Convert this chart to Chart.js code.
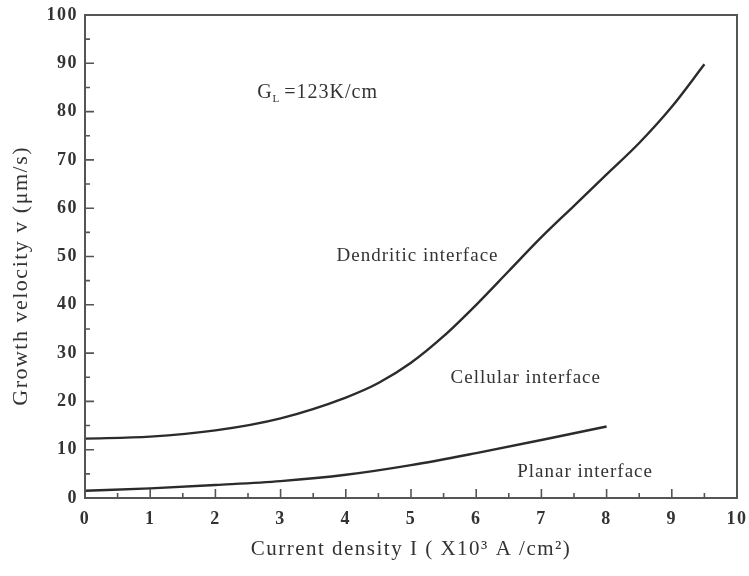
<!DOCTYPE html>
<html>
<head>
<meta charset="utf-8">
<script src="https://cdn.jsdelivr.net/npm/chart.js@4/dist/chart.umd.min.js"></script>
<style>
  html, body { margin: 0; padding: 0; background: #fff; }
  #wrap { width: 749px; height: 576px; }
</style>
</head>
<body>
<div id="wrap"><canvas id="growth" width="749" height="576"></canvas></div>
<script>
// current density (x10^3 A/cm^2) and growth velocity (um/s)
const dendriticX = [0, 1, 2, 3, 4, 4.5, 5, 5.5, 6, 6.5, 7, 7.5, 8, 8.5, 9, 9.5];
const dendriticY = [12.3, 12.7, 14.0, 16.5, 20.8, 23.8, 28.0, 33.5, 40.0, 47.0, 54.0, 60.5, 67.0, 73.5, 81.0, 89.8];
const planarX = [0, 1, 2, 3, 4, 5, 6, 7, 8];
const planarY = [1.5, 2.0, 2.7, 3.5, 4.8, 6.8, 9.3, 12.0, 14.8];

const xTicks = [0, 1, 2, 3, 4, 5, 6, 7, 8, 9, 10];
const yTicks = [0, 10, 20, 30, 40, 50, 60, 70, 80, 90, 100];

// region labels placed in data coordinates
const regionLabels = [
  { text: 'Dendritic interface', x: 5.1, y: 50 },
  { text: 'Cellular interface', x: 6.76, y: 24.8 },
  { text: 'Planar interface', x: 7.67, y: 5.4 }
];

const yTitle = 'Growth velocity v (\u03BCm/s)';

const SERIF = '"Liberation Serif", "DejaVu Serif", serif';
const INK = '#333';

function pairs(xs, ys) {
  return xs.map((x, i) => ({ x: x, y: ys[i] }));
}

// the printed lettering is loosely spaced
const spacing = {
  id: 'spacing',
  beforeDraw(chart) { chart.ctx.letterSpacing = '1.5px'; }
};

// box frame plus inward major/minor ticks on the bottom and left axes
const frameTicks = {
  id: 'frameTicks',
  afterDraw(chart) {
    const { ctx, chartArea: a, scales: { x, y } } = chart;
    ctx.save();
    ctx.strokeStyle = '#555';
    ctx.lineWidth = 2;
    ctx.strokeRect(a.left, a.top, a.right - a.left, a.bottom - a.top);
    ctx.lineWidth = 1.6;
    ctx.beginPath();
    for (let i = 0; i < xTicks.length; i++) {
      const px = x.getPixelForValue(xTicks[i]);
      ctx.moveTo(px, a.bottom);
      ctx.lineTo(px, a.bottom - 9);
      if (i < xTicks.length - 1) {
        const mx = x.getPixelForValue((xTicks[i] + xTicks[i + 1]) / 2);
        ctx.moveTo(mx, a.bottom);
        ctx.lineTo(mx, a.bottom - 5);
      }
    }
    for (let i = 0; i < yTicks.length; i++) {
      const py = y.getPixelForValue(yTicks[i]);
      ctx.moveTo(a.left, py);
      ctx.lineTo(a.left + 9, py);
      if (i < yTicks.length - 1) {
        const my = y.getPixelForValue((yTicks[i] + yTicks[i + 1]) / 2);
        ctx.moveTo(a.left, my);
        ctx.lineTo(a.left + 5, my);
      }
    }
    ctx.stroke();

    // y title, sitting a little below the middle of the axis
    ctx.fillStyle = INK;
    ctx.font = '22px ' + SERIF;
    ctx.letterSpacing = '1.5px';
    ctx.textAlign = 'center';
    ctx.textBaseline = 'middle';
    ctx.translate(21, y.getPixelForValue(46));
    ctx.rotate(-Math.PI / 2);
    ctx.fillText(yTitle, 0, 0);
    ctx.restore();
  }
};

// text annotations: G_L with subscript, plus the three region names
const notes = {
  id: 'notes',
  afterDatasetsDraw(chart) {
    const { ctx, scales: { x, y } } = chart;
    ctx.save();
    ctx.fillStyle = INK;
    ctx.letterSpacing = '1px';
    ctx.textBaseline = 'middle';
    ctx.font = '19px ' + SERIF;
    ctx.textAlign = 'center';
    regionLabels.forEach(l => {
      ctx.fillText(l.text, x.getPixelForValue(l.x), y.getPixelForValue(l.y));
    });

    ctx.textAlign = 'left';
    let gx = x.getPixelForValue(2.64);
    const gy = y.getPixelForValue(84);
    ctx.font = '20px ' + SERIF;
    ctx.fillText('G', gx, gy);
    gx += ctx.measureText('G').width;
    ctx.font = '11px ' + SERIF;
    ctx.fillText('L', gx, gy + 7);
    gx += ctx.measureText('L').width + 4;
    ctx.font = '20px ' + SERIF;
    ctx.fillText('=123K/cm', gx, gy);
    ctx.restore();
  }
};

const lineStyle = {
  borderColor: '#2b2b2b',
  borderWidth: 2.4,
  pointRadius: 0,
  showLine: true,
  fill: false,
  cubicInterpolationMode: 'monotone'
};

new Chart(document.getElementById('growth').getContext('2d'), {
  type: 'scatter',
  data: {
    datasets: [
      Object.assign({ label: 'Dendritic / cellular boundary', data: pairs(dendriticX, dendriticY) }, lineStyle),
      Object.assign({ label: 'Cellular / planar boundary', data: pairs(planarX, planarY) }, lineStyle)
    ]
  },
  options: {
    responsive: false,
    animation: false,
    layout: { padding: { top: 15, right: 12, bottom: 0, left: 0 } },
    scales: {
      x: {
        type: 'linear',
        min: 0,
        max: 10,
        afterFit(scale) {
          scale.height = 78;
          scale.paddingLeft = 0;
          scale.paddingRight = 0;
        },
        afterBuildTicks(scale) { scale.ticks = xTicks.map(v => ({ value: v })); },
        grid: { display: false, drawTicks: false },
        border: { display: false },
        ticks: {
          color: INK,
          padding: 11,
          maxRotation: 0,
          font: { family: SERIF, size: 18, weight: 'bold' }
        },
        title: {
          display: true,
          text: 'Current density I ( X10\u00B3 A /cm\u00B2)',
          color: INK,
          padding: { top: 14, bottom: 14 },
          font: { family: SERIF, size: 21 }
        }
      },
      y: {
        type: 'linear',
        min: 0,
        max: 100,
        afterFit(scale) {
          scale.width = 85;
          scale.paddingTop = 0;
          scale.paddingBottom = 0;
        },
        afterBuildTicks(scale) { scale.ticks = yTicks.map(v => ({ value: v })); },
        grid: { display: false, drawTicks: false },
        border: { display: false },
        ticks: {
          color: INK,
          padding: 7,
          font: { family: SERIF, size: 18, weight: 'bold' }
        },
        title: { display: false }
      }
    },
    plugins: {
      legend: { display: false },
      tooltip: { enabled: false }
    }
  },
  plugins: [spacing, frameTicks, notes]
});
</script>
</body>
</html>
